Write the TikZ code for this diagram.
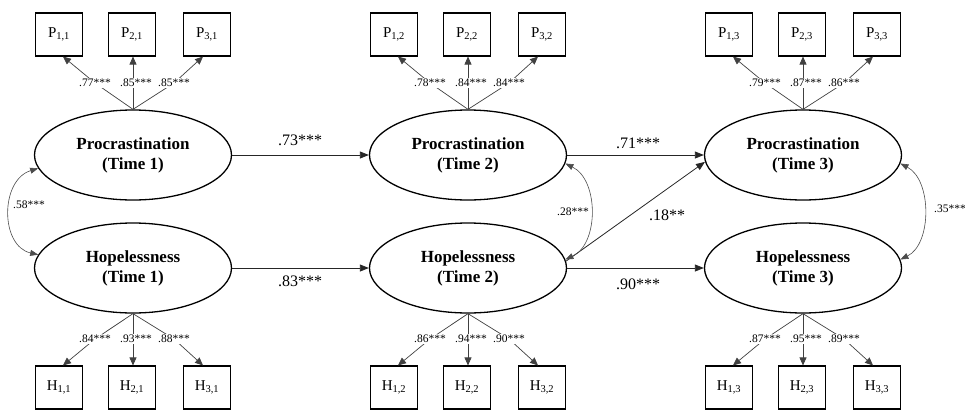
\documentclass[tikz,border=0pt]{standalone}
\usepackage{fontspec}
\setmainfont{Liberation Serif}
\usetikzlibrary{shapes.geometric,arrows.meta}
\begin{document}
\begin{tikzpicture}[x=1pt,y=-1pt,
 lat/.style={draw,ellipse,line width=1.3pt,minimum width=197pt,minimum height=90pt,inner sep=0pt,align=center,font=\fontsize{17}{20}\selectfont\bfseries},
 obs/.style={draw,rectangle,line width=1.1pt,minimum width=47pt,minimum height=43pt,inner sep=0pt,font=\fontsize{15}{18}\selectfont},
 ld/.style={line width=0.7pt,draw=black!75},
 ldtip/.style={ld,-{Triangle[length=8pt,width=7pt]}},
 spath/.style={line width=0.8pt,draw=black!85,-{Triangle[length=9pt,width=7pt]}},
 cov/.style={line width=0.6pt,draw=black!70,{Triangle[length=8pt,width=6pt]}-{Triangle[length=8pt,width=6pt]}},
 sl/.style={fill=white,inner sep=1pt,font=\fontsize{11.5}{13}\selectfont},
 bl/.style={inner sep=1pt,font=\fontsize{16}{18}\selectfont}]
\useasboundingbox (0,0) rectangle (965,410);
\foreach \c/\x in {1/133,2/468,3/803} {
  \node[lat] (P\c) at (\x,155) {Procrastination\\(Time \c)};
  \node[lat] (H\c) at (\x,268) {Hopelessness\\(Time \c)};
  \foreach \i/\dx/\tx in {1/-74/4,2/-1/1,3/74/-4} {
    \node[obs] (p\i\c) at (\x+\dx,34.5) {P\textsubscript{\i,\c}};
    \node[obs] (h\i\c) at (\x+\dx,387.5) {H\textsubscript{\i,\c}};
    \coordinate (tp\i\c) at ([xshift=\tx pt]p\i\c.south);
    \coordinate (th\i\c) at ([xshift=\tx pt]h\i\c.north);
  }
  \foreach \i/\bx in {1/-38,2/0,3/41} {
    \coordinate (bp\i\c) at (\x+\bx,83);
    \coordinate (bh\i\c) at (\x+\bx,339);
    \draw[ld] (P\c.north) -- (bp\i\c);
    \draw[ldtip] (bp\i\c) -- (tp\i\c);
    \draw[ld] (H\c.south) -- (bh\i\c);
    \draw[ldtip] (bh\i\c) -- (th\i\c);
  }
}
% loading labels
\foreach \c/\x/\a/\b/\d/\e/\f/\g in {1/133/.77/.85/.85/.84/.93/.88, 2/468/.78/.84/.84/.86/.94/.90, 3/803/.79/.87/.86/.87/.95/.89} {
  \node[sl] (lpa\c) at (\x-38,83) {\a***};
  \node[sl] (lpb\c) at (\x+3,83) {\b***};
  \node[sl] (lpc\c) at (\x+41,83) {\d***};
  \node[sl] (lha\c) at (\x-38,339) {\e***};
  \node[sl] (lhb\c) at (\x+3,339) {\f***};
  \node[sl] (lhc\c) at (\x+41,339) {\g***};
}
% structural paths
\draw[spath] (P1) -- (P2);
\draw[spath] (P2) -- (P3);
\draw[spath] (H1) -- (H2);
\draw[spath] (H2) -- (H3);
\draw[spath] (H2.4) -- (P3.184);
\node[bl] (l73) at (300,140) {.73***};
\node[bl] (l83) at (300,281) {.83***};
\node[bl] (l71) at (638,143) {.71***};
\node[bl] (l90) at (638,284) {.90***};
\node[bl] (l18) at (667,215) {.18**};
% covariances
\draw[cov] (P1.188) .. controls (0,180) and (0,246) .. (H1.172);
\draw[cov] (P2.-5) .. controls (599,180) and (599,244) .. (H2.5);
\draw[cov] (P3.-5) .. controls (932,180) and (932,244) .. (H3.5);
\node[sl,fill=none] (l58) at (29,205) {.58***};
\node[sl,fill=none] (l28) at (573,212) {.28***};
\node[sl,fill=none] (l35) at (950,209) {.35***};
\end{tikzpicture}
\end{document}
